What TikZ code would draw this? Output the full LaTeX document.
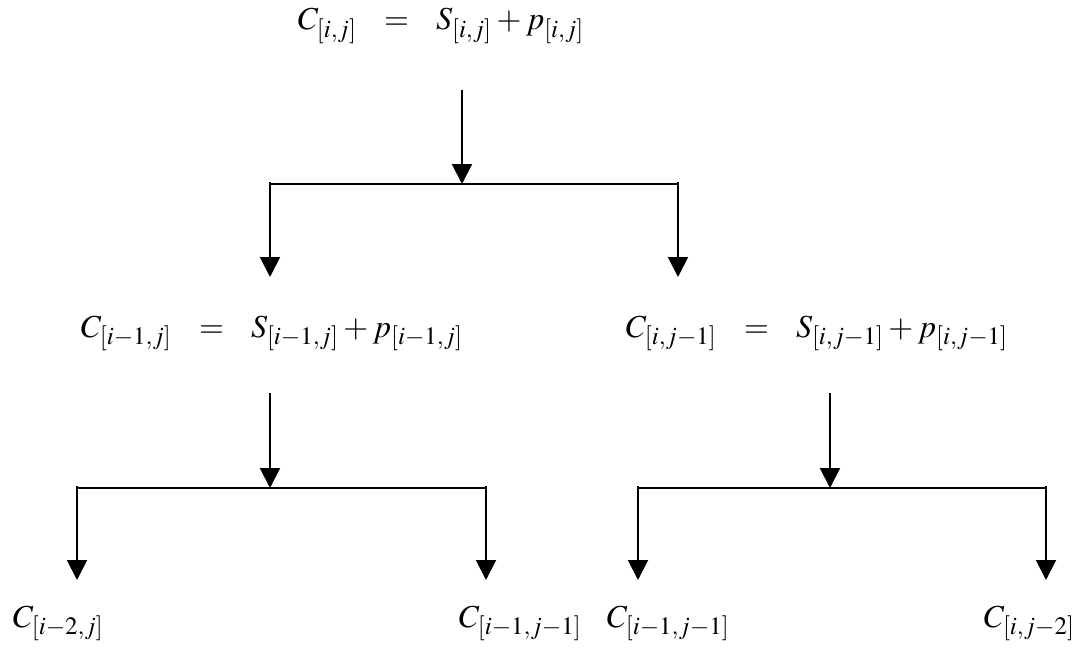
\documentclass[tikz,border=0pt]{standalone}
\usepackage{mathptmx}
\usetikzlibrary{arrows.meta}
\DeclareMathSizes{16}{16}{12.5}{9}
\newcommand{\eqgap}{\hskip10pt}

\begin{document}
\begin{tikzpicture}[x=0.5pt,y=-0.5pt,
  line width=1pt, >={Triangle[width=10pt,length=10pt]},
  eq/.style={inner sep=0pt, font=\fontsize{16}{20}\selectfont},
]
\useasboundingbox (0,0) rectangle (1078,653);
% equations
\node[eq, anchor=base west] (top) at (297,30) {$C_{[i,j]}\eqgap=\eqgap S_{[i,j]}+p_{[i,j]}$};
\node[eq, anchor=base west] (midl) at (80,337) {$C_{[i-1,j]}\eqgap=\eqgap S_{[i-1,j]}+p_{[i-1,j]}$};
\node[eq, anchor=base west] (midr) at (625,337) {$C_{[i,j-1]}\eqgap=\eqgap S_{[i,j-1]}+p_{[i,j-1]}$};
\node[eq, anchor=base west] (botA) at (12,627) {$C_{[i-2,j]}$};
\node[eq, anchor=base west] (botB) at (458,627) {$C_{[i-1,j-1]}$};
\node[eq, anchor=base west] (botC) at (606,627) {$C_{[i-1,j-1]}$};
\node[eq, anchor=base east] (botD) at (1076,627) {$C_{[i,j-2]}$};
% arrow tip levels
\coordinate (t1) at (0,277);
\coordinate (t2) at (0,580);
% first split
\coordinate (s1) at (462,90);
\coordinate (j1) at (462,184);
\coordinate (l1) at (270,184);
\coordinate (r1) at (678,184);
\draw[->] (s1) -- (j1);
\draw (l1) -- (r1);
\draw[->] ([yshift=1pt]l1) -- (l1 |- t1);
\draw[->] ([yshift=1pt]r1) -- (r1 |- t1);
% left split
\coordinate (s2) at (270,393);
\coordinate (j2) at (270,488);
\coordinate (l2) at (77,488);
\coordinate (r2) at (486,488);
\draw[->] (s2) -- (j2);
\draw (l2) -- (r2);
\draw[->] ([yshift=1pt]l2) -- (l2 |- t2);
\draw[->] ([yshift=1pt]r2) -- (r2 |- t2);
% right split
\coordinate (s3) at (830,393);
\coordinate (j3) at (830,488);
\coordinate (l3) at (638,488);
\coordinate (r3) at (1046,488);
\draw[->] (s3) -- (j3);
\draw (l3) -- (r3);
\draw[->] ([yshift=1pt]l3) -- (l3 |- t2);
\draw[->] ([yshift=1pt]r3) -- (r3 |- t2);
\end{tikzpicture}
\end{document}
